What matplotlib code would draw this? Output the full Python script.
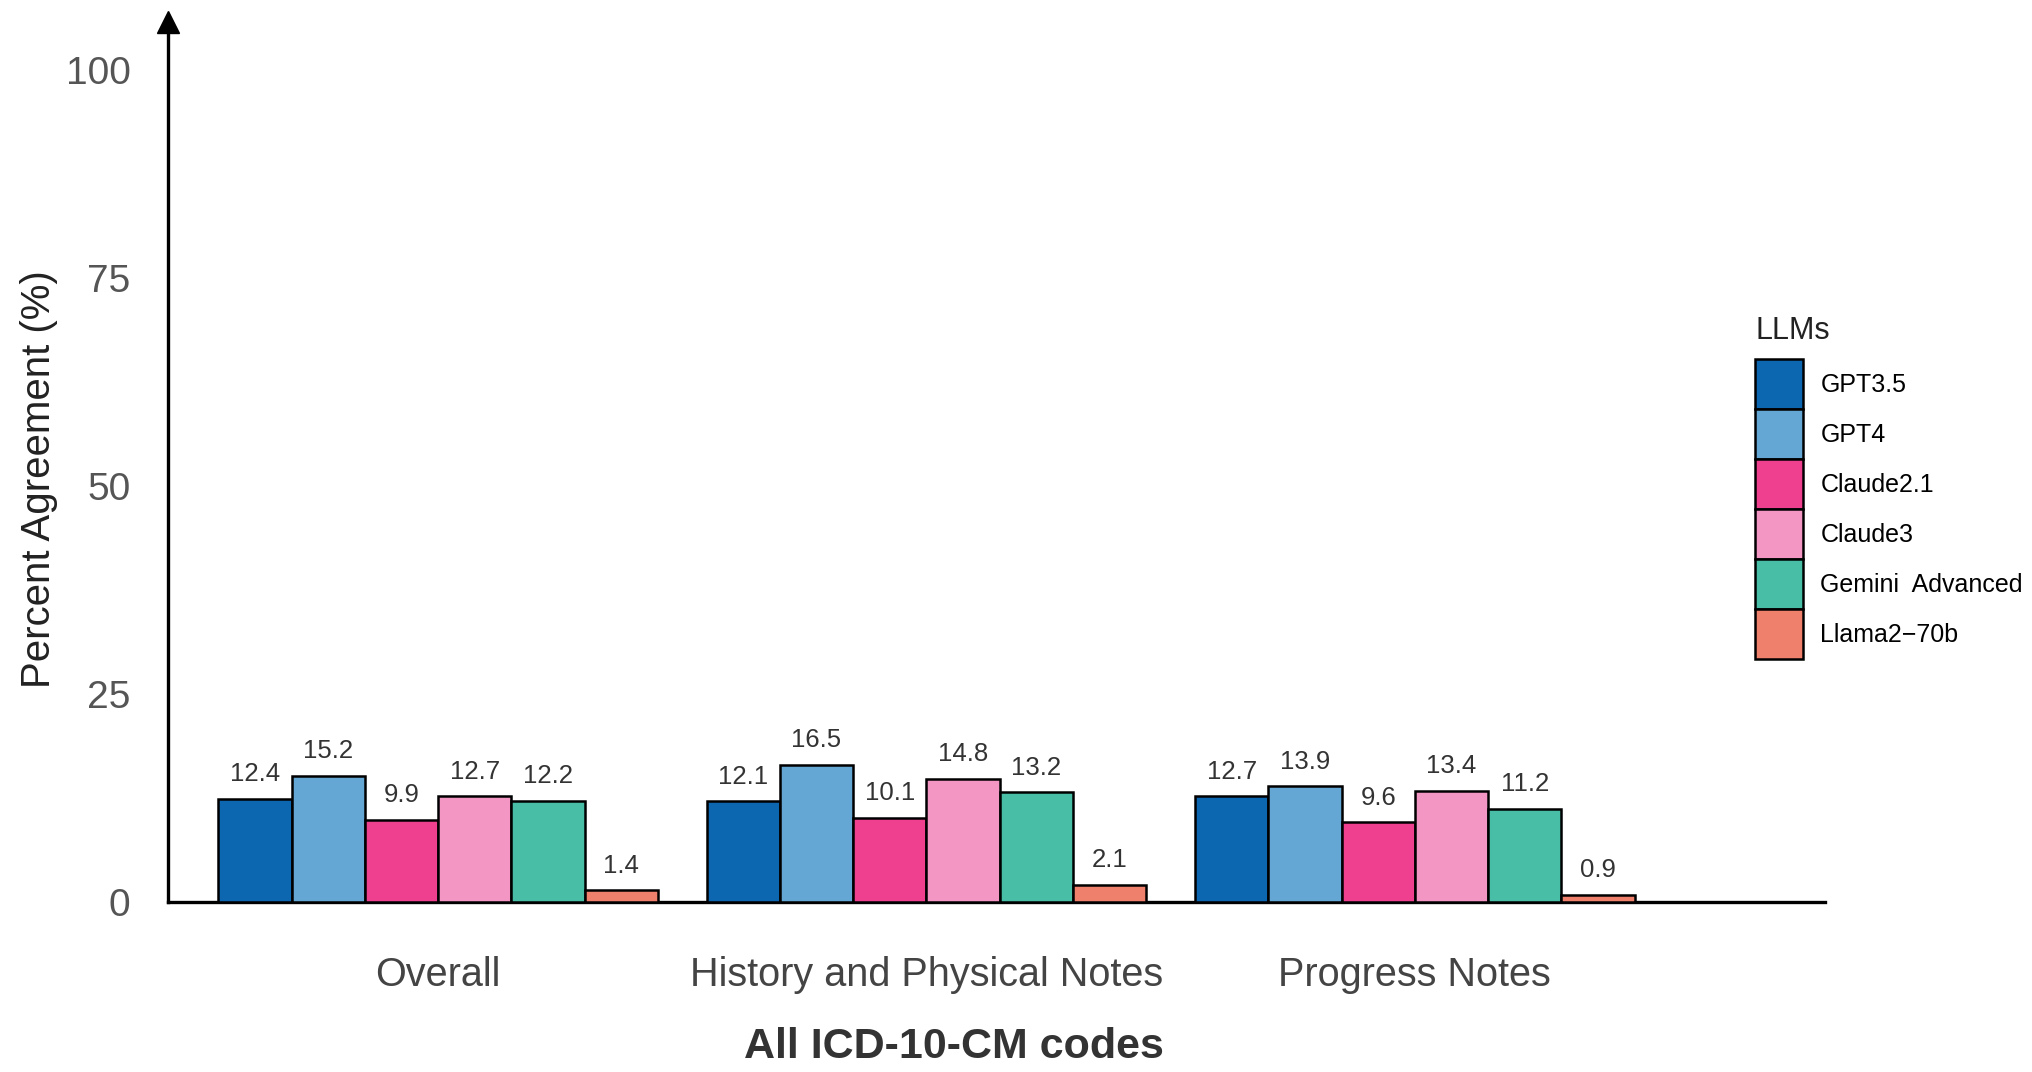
import numpy as np
import matplotlib.pyplot as plt

plt.rcParams['font.family'] = ['Liberation Sans', 'DejaVu Sans']

categories = ['Overall', 'History and Physical Notes', 'Progress Notes']
models = ['GPT3.5', 'GPT4', 'Claude2.1', 'Claude3', 'Gemini  Advanced', 'Llama2\u221270b']
gpt35 = [12.4, 12.1, 12.7]
gpt4 = [15.2, 16.5, 13.9]
claude21 = [9.9, 10.1, 9.6]
claude3 = [12.7, 14.8, 13.4]
gemini = [12.2, 13.2, 11.2]
llama = [1.4, 2.1, 0.9]
yticks = [0, 25, 50, 75, 100]

colors = ['#0d66b0', '#64a6d4', '#ee408e', '#f396c3', '#48bea7', '#ee806c']
series = [gpt35, gpt4, claude21, claude3, gemini, llama]

fig = plt.figure(figsize=(20.32, 10.72), dpi=100)
ax = fig.add_axes([168 / 2032, 1 - 902 / 1072, (1825 - 168) / 2032, (902 - 22) / 1072])

x = np.arange(len(categories))
width = 0.15
for i, (vals, name) in enumerate(zip(series, models)):
    pos = x + (i - 2.5) * width
    bars = ax.bar(pos, vals, width, color=colors[i], edgecolor='black',
                  linewidth=1.8, label=name, zorder=3)
    ax.bar_label(bars, labels=[f'{v:.1f}' for v in vals], padding=9,
                 fontsize=18.5, color='#333333')

ax.set_xlim(-0.553, 2.84)
ax.set_ylim(0, 105.8)
ax.set_yticks(yticks)
ax.set_yticklabels([str(t) for t in yticks], fontsize=28, color='#555555')
ax.tick_params(axis='y', length=0, pad=27)
ax.set_xticks(x)
ax.set_xticklabels(categories, fontsize=28.5, color='#444444')
ax.tick_params(axis='x', length=0, pad=39)

for s in ['top', 'right']:
    ax.spines[s].set_visible(False)
for s in ['left', 'bottom']:
    ax.spines[s].set_linewidth(2.4)
    ax.spines[s].set_color('black')
ax.plot(0, 1, marker='^', color='black', markersize=16,
        transform=ax.transAxes, clip_on=False, zorder=5)

fig.text(39 / 2032, 1 - 479 / 1072, 'Percent Agreement (%)', rotation=90,
         ha='center', va='center', fontsize=29, color='#222222')
fig.text(954 / 2032, 1 - 1047 / 1072, 'All ICD-10-CM codes', ha='center',
         va='center', fontsize=31, fontweight='bold', color='#333333')

# legend title drawn separately so the gap to the boxes can be set
fig.text(1755 / 2032, 1 - 331 / 1072, 'LLMs', ha='left', va='center',
         fontsize=22, color='#222222')
leg = ax.legend(loc='upper left', bbox_to_anchor=(1755 / 2032, 1 - 359 / 1072),
                bbox_transform=fig.transFigure, frameon=False,
                fontsize=18, handlelength=1.9,
                handleheight=2.7, labelspacing=0, handletextpad=0.72,
                borderpad=0, borderaxespad=0)
for h in leg.legend_handles:
    h.set_linewidth(1.8)

fig.savefig('out.png', dpi=100)
